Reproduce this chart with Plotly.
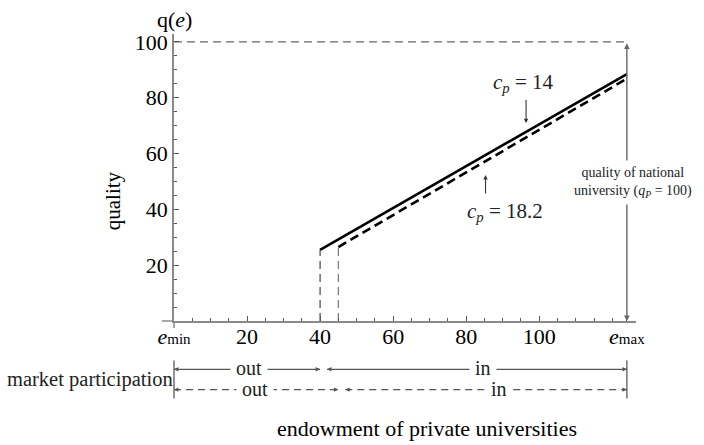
import plotly.graph_objects as go

SERIF = "Liberation Serif"

# ---- data -------------------------------------------------------------
E_MIN, E_MAX = 0, 124          # endowment range of private universities
Q_NATIONAL = 100               # quality of the national university

cp_values = ["14", "18.2"]     # private cost parameter c_p for each scenario
entry_endowment = [40, 45]     # endowment at which a private university enters
quality_at_entry = [25.5, 26.5]
quality_at_emax = [88.4, 86.8]

x_tickvals = [E_MIN, 20, 40, 60, 80, 100, E_MAX]
x_ticktext = [
    '<i>e</i><span style="font-size:15px">min</span>',
    "20", "40", "60", "80", "100",
    '<i>e</i><span style="font-size:15px">max</span>',
]
y_tickvals = [20, 40, 60, 80, 100]

# ---- styles -----------------------------------------------------------
curve_dash = ["solid", "9px,5px"]
guide_dash = "8px,5px"
axis_grey = "#8a8a8a"
guide_grey = "#666666"

fig = go.Figure()

# quality curves q(e) and drop lines at the entry thresholds
for e0, q0, q1, dash, drop_col in zip(entry_endowment, quality_at_entry,
                                       quality_at_emax, curve_dash,
                                       ["#444444", "#777777"]):
    fig.add_trace(go.Scatter(
        x=[e0, E_MAX], y=[q0, q1], mode="lines",
        line=dict(color="black", width=2.6, dash=dash),
        hoverinfo="skip", showlegend=False))
    fig.add_trace(go.Scatter(
        x=[e0, e0], y=[0, q0], mode="lines",
        line=dict(color=drop_col, width=1.2, dash=guide_dash),
        hoverinfo="skip", showlegend=False))

# national university quality level
fig.add_trace(go.Scatter(
    x=[E_MIN, E_MAX], y=[Q_NATIONAL, Q_NATIONAL], mode="lines",
    line=dict(color=guide_grey, width=1.2, dash=guide_dash),
    hoverinfo="skip", showlegend=False))

annotations = []
shapes = []

# double-headed arrow at e_max spanning 0..q_national
annotations.append(dict(
    x=E_MAX, y=0, ax=E_MAX, ay=Q_NATIONAL, xref="x", yref="y",
    axref="x", ayref="y", text="", showarrow=True,
    arrowside="end+start", arrowhead=2, startarrowhead=2,
    arrowsize=0.8, startarrowsize=0.8, arrowwidth=1.4, arrowcolor=guide_grey))
annotations.append(dict(
    x=E_MAX, y=49.7, xref="x", yref="y", xshift=6,
    xanchor="center", yanchor="middle",
    text="quality of national<br>university (<i>q<sub>P</sub></i> = 100)",
    showarrow=False, bgcolor="white", borderpad=4,
    font=dict(family=SERIF, size=14, color="#222")))

# c_p labels with pointers to their curves
cp_text_pos = [(95.6, 85.2), (90.7, 38.9)]
cp_arrow = [(96.4, 79.8, 70.9), (85.3, 45.1, 52.3)]
for cp, (tx, ty), (axx, y_tail, y_head) in zip(cp_values, cp_text_pos, cp_arrow):
    annotations.append(dict(
        x=tx, y=ty, xref="x", yref="y", showarrow=False,
        xanchor="center", yanchor="middle",
        text=f"<i>c<sub>p</sub></i> = {cp}",
        font=dict(family=SERIF, size=21, color="#222")))
    annotations.append(dict(
        x=axx, y=y_head, ax=axx, ay=y_tail, xref="x", yref="y",
        axref="x", ayref="y", text="", showarrow=True, arrowhead=2,
        arrowsize=0.8, arrowwidth=1.1, arrowcolor="#333"))

# axis labels
annotations.append(dict(
    x=0, y=1, xref="x domain", yref="paper",
    xanchor="center", yanchor="middle", yshift=15,
    text="q(<i>e</i>)", showarrow=False,
    font=dict(family=SERIF, size=22, color="black")))
annotations.append(dict(
    x=0, y=42.9, xref="x domain", yref="y", xshift=-61, textangle=-90,
    xanchor="center", yanchor="middle",
    text="quality", showarrow=False,
    font=dict(family=SERIF, size=21, color="black")))
annotations.append(dict(
    x=69.3, y=0, xref="x", yref="paper", yshift=-107,
    xanchor="center", yanchor="middle",
    text="endowment of private universities", showarrow=False,
    font=dict(family=SERIF, size=22, color="black")))

# market participation rows (one per c_p scenario)
row_offset_px = [-48.3, -68.6]
out_label_x = [20.4, 22.1]
in_label_x = [84.7, 89.1]
row_dash = ["solid", "7px,5px"]
row_col = "#555555"
for e0, dy, ox, ix, dash in zip(entry_endowment, row_offset_px,
                                out_label_x, in_label_x, row_dash):
    gap = 1.9
    for xa, xb in [(E_MIN, e0), (e0 + gap, E_MAX)]:
        shapes.append(dict(
            type="line", xref="x", yref="paper", ysizemode="pixel",
            yanchor=0, x0=xa, x1=xb, y0=dy, y1=dy,
            line=dict(color=row_col, width=1.2, dash=dash)))
        for head, tail in [(xa, 6), (xb, -6)]:
            annotations.append(dict(
                x=head, y=0, xref="x", yref="paper", yshift=dy,
                ax=tail, ay=0, axref="pixel", ayref="pixel",
                text="", showarrow=True, arrowhead=2, arrowsize=0.8,
                arrowwidth=1.1, arrowcolor=row_col))
    for lx, lab in [(ox, "out"), (ix, "in")]:
        annotations.append(dict(
            x=lx, y=0, xref="x", yref="paper", yshift=dy + 1,
            xanchor="center", yanchor="middle",
            text=f"&nbsp;{lab}&nbsp;", showarrow=False, bgcolor="white",
            borderpad=0, font=dict(family=SERIF, size=20, color="#222")))

# bracket bars at both ends of the participation rows
for xref, xv in [("x domain", 0), ("x", E_MAX)]:
    shapes.append(dict(
        type="line", xref=xref, yref="paper", ysizemode="pixel", yanchor=0,
        x0=xv, x1=xv, y0=-39.5, y1=-77.5,
        line=dict(color="#666666", width=1.4)))
annotations.append(dict(
    x=0, y=0, xref="x domain", yref="paper", xanchor="right",
    yanchor="middle", xshift=1, yshift=-58,
    text="market participation", showarrow=False,
    font=dict(family=SERIF, size=20.5, color="#222")))

# short axis extensions past the origin
shapes.append(dict(
    type="line", xref="x domain", yref="paper", xsizemode="pixel", xanchor=0,
    x0=-12, x1=0, y0=0, y1=0, line=dict(color=axis_grey, width=1.5)))
shapes.append(dict(
    type="line", xref="x domain", yref="paper", ysizemode="pixel", yanchor=0,
    x0=0, x1=0, y0=-7, y1=0, line=dict(color=axis_grey, width=1.5)))

fig.update_layout(
    width=704, height=445,
    margin=dict(l=174, r=68, t=34, b=124),
    plot_bgcolor="white", paper_bgcolor="white",
    showlegend=False,
    annotations=annotations, shapes=shapes,
    font=dict(family=SERIF, color="black"),
)
fig.update_xaxes(
    range=[0, 126.5], showgrid=False, zeroline=False,
    showline=True, linecolor=axis_grey, linewidth=1.5,
    ticks="inside", ticklen=5, tickcolor="#555", tickwidth=1,
    tickvals=x_tickvals, ticktext=x_ticktext, ticklabelstandoff=-5,
    tickfont=dict(family=SERIF, size=22, color="black"),
    minor=dict(tickmode="array", tickvals=list(range(0, 121, 5)),
               ticks="inside", ticklen=3, tickcolor="#555"),
)
fig.update_yaxes(
    range=[0, 102.8], showgrid=False, zeroline=False,
    showline=True, linecolor=axis_grey, linewidth=1.5,
    ticks="inside", ticklen=5, tickcolor="#555", tickwidth=1,
    tickvals=y_tickvals,
    tickfont=dict(family=SERIF, size=22, color="black"),
    minor=dict(tickmode="array", tickvals=list(range(0, 101, 5)),
               ticks="inside", ticklen=3, tickcolor="#555"),
)

fig.write_html("out.html")
